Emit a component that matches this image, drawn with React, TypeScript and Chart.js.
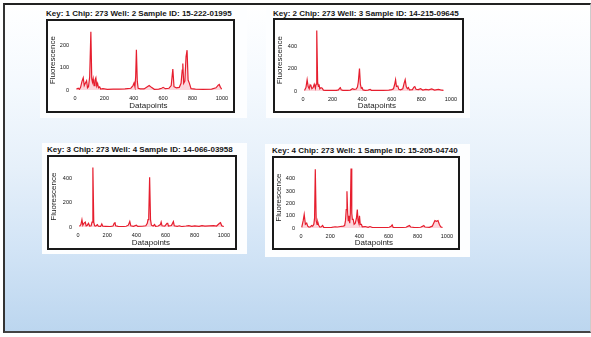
import React, { useEffect, useRef } from "react";
import { Chart, registerables } from "chart.js";

Chart.register(...registerables);

// ---------- DATA ----------
const xTicks = [0, 200, 400, 600, 800, 1000];

const p1Title = "Key: 1 Chip: 273 Well: 2 Sample ID: 15-222-01995";
const p1YTicks = [0, 100, 200];
const p1X = [10, 22, 30, 38, 48, 56, 63, 70, 79, 85, 92, 100, 108, 114, 119, 124, 130, 136, 142, 148, 154, 160, 168, 175, 190, 220, 260, 300, 340, 380, 395, 402, 408, 413, 418, 424, 430, 445, 470, 490, 505, 520, 540, 570, 590, 600, 615, 640, 655, 666, 674, 690, 710, 722, 730, 734, 740, 748, 756, 763, 770, 779, 790, 820, 870, 930, 960, 975, 982, 990, 1000];
const p1Y = [4, 8, 3, 12, 40, 55, 20, 30, 42, 10, 15, 60, 263, 50, 35, 52, 20, 45, 55, 18, 30, 10, 14, 4, 6, 3, 4, 4, 5, 8, 20, 32, 15, 60, 182, 40, 8, 5, 5, 14, 20, 12, 3, 4, 8, 12, 6, 8, 20, 95, 15, 10, 12, 30, 90, 120, 30, 40, 150, 180, 45, 30, 6, 4, 3, 4, 10, 22, 25, 12, 4];

const p2Title = "Key: 2 Chip: 273 Well: 3 Sample ID: 14-215-09645";
const p2YTicks = [0, 200, 400];
const p2X = [10, 20, 28, 35, 42, 48, 54, 60, 68, 76, 84, 88, 93, 99, 104, 108, 114, 122, 130, 138, 150, 175, 200, 225, 240, 248, 253, 258, 270, 300, 320, 335, 345, 360, 368, 374, 382, 388, 394, 400, 406, 420, 440, 454, 462, 500, 540, 580, 600, 612, 620, 626, 632, 641, 648, 660, 675, 684, 691, 698, 706, 713, 720, 740, 750, 756, 764, 780, 795, 810, 830, 850, 870, 890, 915, 930, 950];
const p2Y = [5, 30, 100, 40, 20, 55, 45, 20, 30, 60, 25, 60, 540, 80, 40, 60, 20, 30, 25, 8, 6, 5, 6, 5, 10, 25, 30, 10, 5, 6, 8, 20, 15, 18, 35, 80, 200, 60, 25, 30, 10, 6, 8, 15, 6, 5, 6, 8, 12, 20, 60, 100, 40, 45, 15, 10, 20, 70, 100, 40, 20, 30, 10, 12, 35, 40, 15, 12, 20, 8, 15, 10, 18, 8, 15, 10, 6];

const p3Title = "Key: 3 Chip: 273 Well: 4 Sample ID: 14-066-03958";
const p3YTicks = [0, 200, 400];
const p3X = [10, 20, 27, 33, 40, 50, 56, 64, 72, 80, 90, 96, 102, 108, 114, 122, 133, 140, 155, 163, 170, 190, 220, 240, 248, 253, 258, 275, 300, 330, 345, 355, 362, 380, 400, 410, 440, 465, 475, 480, 485, 491, 497, 503, 515, 525, 532, 550, 565, 570, 576, 595, 610, 615, 620, 640, 648, 654, 660, 680, 695, 710, 740, 760, 780, 800, 830, 850, 870, 900, 930, 950, 970, 977, 985, 1000];
const p3Y = [5, 20, 60, 15, 30, 40, 10, 15, 30, 8, 10, 40, 490, 40, 10, 8, 20, 6, 5, 25, 6, 5, 4, 8, 30, 40, 10, 5, 4, 6, 15, 45, 10, 6, 15, 5, 6, 10, 30, 60, 90, 410, 60, 15, 8, 20, 6, 8, 20, 40, 10, 8, 30, 30, 8, 12, 30, 45, 10, 5, 10, 4, 8, 12, 6, 10, 6, 12, 8, 10, 12, 8, 30, 35, 10, 4];

const p4Title = "Key: 4 Chip: 273 Well: 1 Sample ID: 15-205-04740";
const p4YTicks = [0, 100, 200, 300, 400];
const p4X = [5, 15, 22, 30, 39, 46, 55, 65, 72, 80, 88, 93, 98, 104, 110, 115, 122, 130, 140, 148, 156, 180, 210, 234, 250, 270, 290, 299, 305, 310, 315, 320, 324, 328, 334, 338, 343, 348, 352, 358, 364, 372, 380, 386, 391, 396, 401, 406, 414, 420, 440, 460, 473, 490, 530, 580, 605, 618, 625, 632, 680, 720, 735, 744, 752, 780, 820, 835, 842, 850, 880, 900, 910, 918, 928, 939, 948, 957, 970];
const p4Y = [5, 60, 110, 30, 40, 15, 8, 10, 20, 15, 30, 80, 480, 60, 30, 50, 20, 8, 10, 20, 5, 4, 5, 10, 8, 12, 15, 20, 60, 150, 300, 120, 60, 100, 40, 120, 485, 120, 70, 70, 30, 40, 80, 150, 60, 40, 100, 30, 30, 10, 12, 5, 12, 4, 3, 4, 6, 15, 25, 5, 4, 6, 15, 20, 8, 4, 6, 15, 20, 8, 5, 15, 40, 60, 55, 60, 30, 10, 4];

const FONT = '"Liberation Sans", Arial, sans-serif';

type PanelProps = {
  title: string;
  xs: number[];
  ys: number[];
  yTicks: number[];
  yMax: number;
  left: number;
  top: number;
  w: number;
  h: number;
  yw: number;
  xh: number;
  padTop: number;
  padRight: number;
  titleTop: number;
};

function Panel(p: PanelProps) {
  const ref = useRef<HTMLCanvasElement>(null);
  const cw = p.w - 4;
  const ch = p.h - 4;
  useEffect(() => {
    if (!ref.current) return;
    const chart = new Chart(ref.current, {
      type: "line",
      data: {
        datasets: [
          {
            data: p.xs.map((x, i) => ({ x, y: p.ys[i] })),
            borderColor: "rgb(230,30,46)",
            borderWidth: 1.2,
            pointRadius: 0,
            tension: 0,
            fill: "origin",
            backgroundColor: "rgba(245,120,140,0.3)",
          },
        ],
      },
      options: {
        animation: false,
        responsive: false,
        maintainAspectRatio: false,
        layout: { padding: { top: p.padTop, right: p.padRight, left: 0, bottom: 0 } },
        plugins: { legend: { display: false }, tooltip: { enabled: false } },
        scales: {
          x: {
            type: "linear",
            min: 0,
            max: 1000,
            afterBuildTicks: (s: any) => {
              s.ticks = xTicks.map((v) => ({ value: v }));
            },
            ticks: {
              font: { size: 5.5, family: FONT },
              color: "#111",
              padding: 5,
              maxRotation: 0,
              autoSkip: false,
              callback: (v: any) => String(v),
            },
            grid: { display: false, drawTicks: false },
            border: { display: false },
            title: {
              display: true,
              text: "Datapoints",
              font: { size: 8, family: FONT },
              color: "#222",
              padding: { top: 0, bottom: 0 },
            },
            afterFit: (s: any) => {
              s.height = p.xh;
            },
          },
          y: {
            type: "linear",
            min: 0,
            max: p.yMax,
            afterBuildTicks: (s: any) => {
              s.ticks = p.yTicks.map((v) => ({ value: v }));
            },
            ticks: {
              font: { size: 5.5, family: FONT },
              color: "#111",
              padding: 6,
              autoSkip: false,
              callback: (v: any) => String(v),
            },
            grid: { display: false, drawTicks: false },
            border: { display: false },
            title: {
              display: true,
              text: "Fluorescence",
              font: { size: 8, family: FONT },
              color: "#222",
              padding: { top: 0, bottom: 0 },
            },
            afterFit: (s: any) => {
              s.width = p.yw;
            },
          },
        },
      },
    } as any);
    return () => chart.destroy();
  }, []);
  return (
    <>
      <div
        style={{
          position: "absolute",
          left: p.left,
          top: p.titleTop,
          height: 10,
          lineHeight: "10px",
          fontFamily: FONT,
          fontWeight: "bold",
          fontSize: 8,
          color: "#151515",
          whiteSpace: "nowrap",
        }}
      >
        {p.title}
      </div>
      <div
        style={{
          position: "absolute",
          left: p.left,
          top: p.top,
          width: p.w,
          height: p.h,
          boxSizing: "border-box",
          border: "2px solid #1a1a1a",
          background: "#fff",
        }}
      >
        <canvas ref={ref} width={cw} height={ch} style={{ display: "block", width: cw, height: ch }} />
      </div>
    </>
  );
}

const card = (l: number, t: number, w: number, h: number) => (
  <div style={{ position: "absolute", left: l, top: t, width: w, height: h, background: "#fdfeff" }} />
);

export default function App() {
  return (
    <div style={{ position: "fixed", left: 0, top: 0, width: 591, height: 337, background: "#fff", overflow: "hidden" }}>
      <div
        style={{
          position: "absolute",
          left: 3,
          top: 3,
          width: 588,
          height: 330,
          boxSizing: "border-box",
          borderTop: "2px solid #222",
          borderLeft: "2px solid #333",
          borderBottom: "2px solid #444",
          borderRight: "1px solid #ccc",
          background:
            "linear-gradient(to bottom, #ffffff 0%, #f4f9fe 25%, #e6f0fa 50%, #d2e4f6 75%, #bcd6ef 100%)",
        }}
      />
      {card(40, 7, 207, 111)}
      {card(266, 7, 204, 111)}
      {card(42, 143, 205, 111)}
      {card(265, 144, 205, 113)}
      <Panel title={p1Title} xs={p1X} ys={p1Y} yTicks={p1YTicks} yMax={270} left={46} top={19} w={189} h={94} yw={27} xh={21} padTop={3} padRight={10} titleTop={9} />
      <Panel title={p2Title} xs={p2X} ys={p2Y} yTicks={p2YTicks} yMax={550} left={273} top={18} w={191} h={95} yw={28} xh={20} padTop={4} padRight={5} titleTop={9} />
      <Panel title={p3Title} xs={p3X} ys={p3Y} yTicks={p3YTicks} yMax={500} left={47} top={155} w={190} h={95} yw={29} xh={21} padTop={3} padRight={10} titleTop={145} />
      <Panel title={p4Title} xs={p4X} ys={p4Y} yTicks={p4YTicks} yMax={495} left={272} top={156} w={188} h={94} yw={27} xh={20} padTop={4} padRight={4} titleTop={146} />
    </div>
  );
}
